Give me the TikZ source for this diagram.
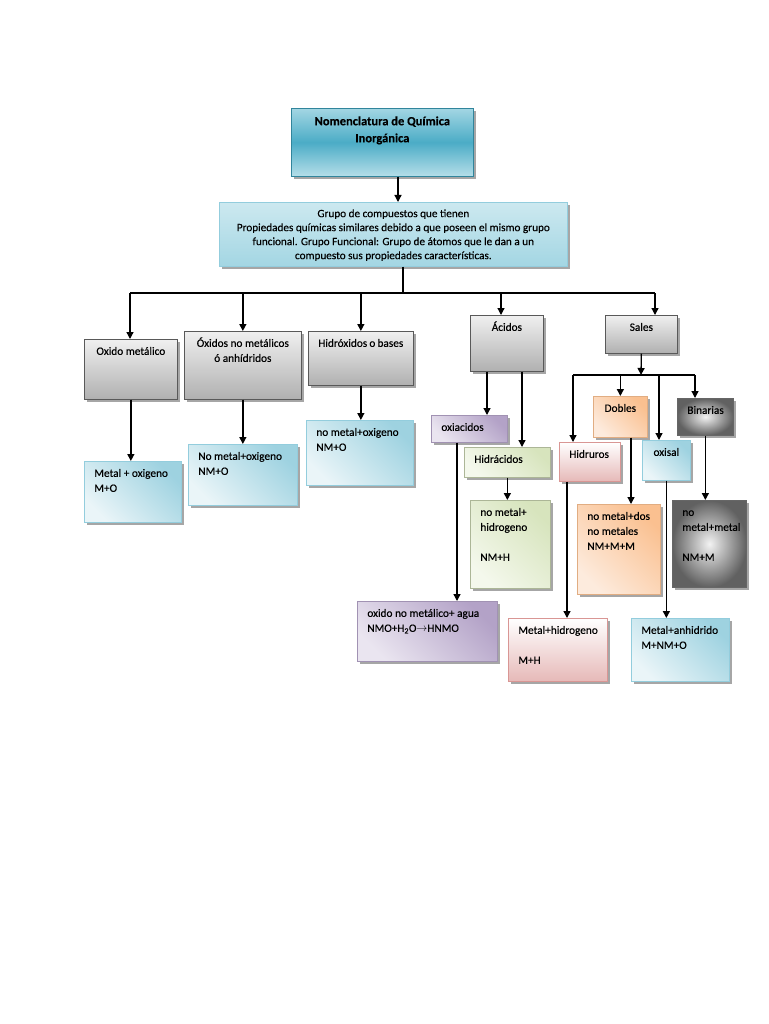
\documentclass[tikz,border=0pt]{standalone}
\usepackage{fontspec}
\setmainfont{Carlito}[FakeBold=0.35]
\usetikzlibrary{arrows.meta,shadows}

\definecolor{tealM}{HTML}{4BACC6}
\definecolor{tealL}{HTML}{A3D6E3}
\definecolor{tealD}{HTML}{31859C}
\definecolor{blueD}{HTML}{93CDDD}
\definecolor{blueL}{HTML}{EAF5F8}
\definecolor{purpD}{HTML}{B3A2C7}
\definecolor{purpL}{HTML}{EAE5F0}
\definecolor{greenD}{HTML}{D7E4BD}
\definecolor{greenL}{HTML}{F4F8EC}
\definecolor{orangeD}{HTML}{FAC090}
\definecolor{orangeL}{HTML}{FDEBDD}
\definecolor{pinkD}{HTML}{E6B9B8}
\definecolor{pinkB}{HTML}{D99694}

% text of a box: width and height of the whole box, in px
\newcommand{\intxt}[3]{\parbox[t][\dimexpr#2pt-10pt\relax][t]{\dimexpr#1pt-20pt\relax}{\raggedright\hyphenpenalty=10000\strut#3}}

\tikzset{
  box/.style={draw, line width=0.7pt, inner xsep=10pt, inner ysep=5pt, anchor=north west,
    font=\fontsize{11.3}{15}\selectfont,
    drop shadow={shadow xshift=2.5pt, shadow yshift=-2.5pt, fill=black, opacity=0.35}},
  titlebox/.style={box, draw=tealD, top color=tealL, bottom color=tealL!80, middle color=tealM,
    font=\fontsize{12.5}{17}\selectfont\bfseries},
  descbox/.style={box, draw=blueD, top color=tealL!55, bottom color=tealL, font=\fontsize{11.2}{14}\selectfont},
  graybox/.style={box, draw=gray!70!black, top color=gray!12, bottom color=gray!62},
  bluebox/.style={box, draw=blueD, top color=blueL, bottom color=blueD!90, shading angle=135},
  purpbox/.style={box, draw=purpD!90!black, top color=purpL, bottom color=purpD, shading angle=135},
  greenbox/.style={box, draw=greenD!80!black, top color=greenL, bottom color=greenD, shading angle=135},
  orangebox/.style={box, draw=orangeD!90!black, top color=orangeL, bottom color=orangeD, shading angle=135},
  pinkbox/.style={box, draw=pinkB, top color=white, bottom color=pinkD},
  darkbox/.style={box, draw=black!60, inner color=gray!10, outer color=black!62},
  line/.style={line width=1.3pt},
  arr/.style={line, -{Triangle[length=7pt,width=7pt]}}
}

\begin{document}
\begin{tikzpicture}[x=1pt, y=-1pt]
  \useasboundingbox (0,0) rectangle (768,1024);

  % top
  \node[titlebox] (title) at (291,108) {\intxt{182}{68}{\centering Nomenclatura de Química\\Inorgánica}};
  \node[descbox] (desc) at (219,202) {\intxt{348}{64}{\centering Grupo de compuestos que tienen\\
    Propiedades químicas similares debido a que poseen el mismo grupo\\
    funcional. Grupo Funcional: Grupo de átomos que le dan a un\\
    compuesto sus propiedades características.}};

  % families
  \node[graybox] (om) at (84,339) {\intxt{93}{60}{\centering Oxido~metálico}};
  \node[graybox] (onm) at (184,331) {\intxt{117}{68}{\centering Óxidos~no~metálicos\\ó anhídridos}};
  \node[graybox] (hb) at (308,331) {\intxt{105}{54}{\centering Hidróxidos~o~bases}};
  \node[graybox] (acid) at (470,315) {\intxt{73}{56}{\centering Ácidos}};
  \node[graybox] (sal) at (605,315) {\intxt{72}{38}{\centering Sales}};

  % formulas
  \node[bluebox] (om2) at (84,461) {\intxt{97}{61}{Metal~+~oxigeno\\M+O}};
  \node[bluebox] (onm2) at (188,444) {\intxt{109}{61}{No~metal+oxigeno\\NM+O}};
  \node[bluebox] (hb2) at (306,420) {\intxt{107}{65}{no~metal+oxigeno\\NM+O}};

  % acids
  \node[purpbox] (oxi) at (431,415) {\intxt{76}{27}{oxiacidos}};
  \node[greenbox] (hid) at (464,447) {\intxt{86}{30}{Hidrácidos}};
  \node[greenbox] (hid2) at (470,500) {\intxt{80}{88}{no~metal+\\hidrogeno\\[15pt]NM+H}};
  \node[purpbox] (oxi2) at (357,601) {\intxt{140}{60}{oxido~no~metálico+~agua\\NMO+H\textsubscript{2}O$\rightarrow$HNMO}};

  % salts
  \node[orangebox] (dob) at (593,396) {\intxt{54}{41}{\centering Dobles}};
  \node[darkbox] (bin) at (677,398) {\intxt{56}{37}{\centering Binarias}};
  \node[pinkbox] (hdr) at (559,442) {\intxt{61}{39}{Hidruros}};
  \node[bluebox] (oxs) at (642,440) {\intxt{48}{40}{\centering oxisal}};
  \node[orangebox] (dob2) at (577,504) {\intxt{83}{90}{no~metal+dos\\no~metales\\NM+M+M}};
  \node[darkbox] (bin2) at (672,500) {\intxt{74}{87}{no\\metal+metal\\[15pt]NM+M}};
  \node[pinkbox] (hdr2) at (508,618) {\intxt{99}{63}{Metal+hidrogeno\\[15pt]M+H}};
  \node[bluebox] (oxs2) at (631,618) {\intxt{98}{63}{Metal+anhidrido\\M+NM+O}};

  % connectors
  \draw[arr] (title.south -| 398,0) -- (desc.north -| 398,0);
  \coordinate (bus) at (403,293);
  \coordinate (busW) at (130,293);
  \coordinate (busE) at (655,293);
  \draw[line] (desc.south -| bus) -- (bus);
  \draw[line] (busW) -- (busE);
  \draw[arr] (busW) -- (om.north -| busW);
  \draw[arr] (onm.north |- bus) -- (onm.north);
  \draw[arr] (hb.north |- bus) -- (hb.north);
  \draw[arr] (bus -| 501,0) -- (acid.north -| 501,0);
  \draw[arr] (busE) -- (sal.north -| busE);

  \draw[arr] (om.south) -- (om2.north -| om.south);
  \draw[arr] (onm.south) -- (onm2.north -| onm.south);
  \draw[arr] (hb.south) -- (hb2.north -| hb.south);

  \draw[arr] (acid.south -| 487,0) -- (oxi.north -| 487,0);
  \draw[arr] (acid.south -| 522,0) -- (hid.north -| 522,0);
  \draw[arr] (oxi.south -| 457,0) -- (oxi2.north -| 457,0);
  \draw[arr] (hid.south) -- (hid2.north -| hid.south);

  \coordinate (sbus) at (641,375);
  \coordinate (sbusW) at (573,375);
  \coordinate (sbusE) at (695,375);
  \draw[arr] (sal.south) -- (sbus);
  \draw[line] (sbusW) -- (sbusE);
  \draw[arr] (sbusW) -- (hdr.north -| sbusW);
  \draw[arr] (dob.north |- sbus) -- (dob.north);
  \draw[arr] (sbus -| 659,0) -- (oxs.north -| 659,0);
  \draw[arr] (sbusE) -- (bin.north -| sbusE);

  \draw[arr] (hdr.south -| 567,0) -- (hdr2.north -| 567,0);
  \draw[arr] (dob.south -| 631,0) -- (dob2.north -| 631,0);
  \draw[arr] (oxs.south) -- (oxs2.north -| oxs.south);
  \draw[arr] (bin.south) -- (bin2.north -| bin.south);
\end{tikzpicture}
\end{document}
